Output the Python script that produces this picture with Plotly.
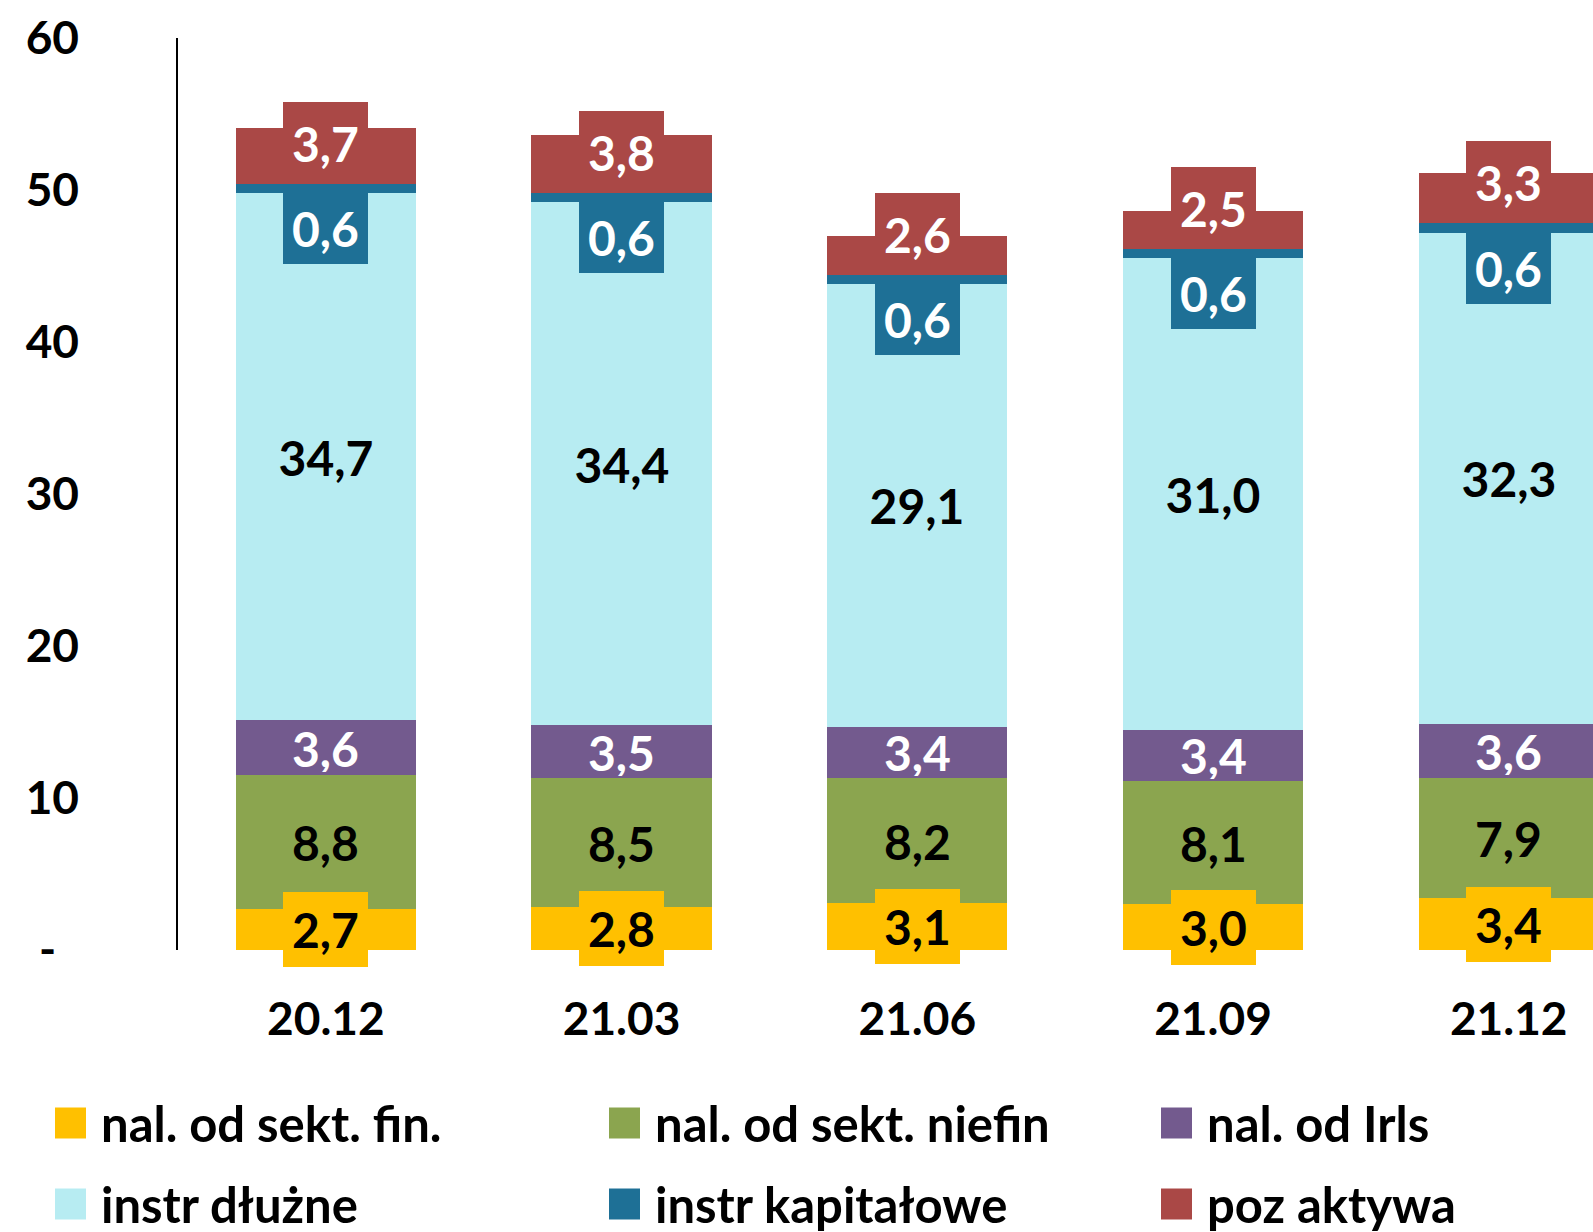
import numpy as np
import plotly.graph_objects as go

# ---------------- data ----------------
categories = ["20.12", "21.03", "21.06", "21.09", "21.12"]
series_names = ["nal. od sekt. fin.", "nal. od sekt. niefin", "nal. od Irls",
                "instr dłużne", "instr kapitałowe", "poz aktywa"]
nal_fin = [2.7, 2.8, 3.1, 3.0, 3.4]
nal_niefin = [8.8, 8.5, 8.2, 8.1, 7.9]
nal_irls = [3.6, 3.5, 3.4, 3.4, 3.6]
instr_dluzne = [34.7, 34.4, 29.1, 31.0, 32.3]
instr_kapitalowe = [0.6, 0.6, 0.6, 0.6, 0.6]
poz_aktywa = [3.7, 3.8, 2.6, 2.5, 3.3]
y_tick_vals = [0, 10, 20, 30, 40, 50, 60]
y_tick_text = ["-\u2002", "10", "20", "30", "40", "50", "60"]

series_values = [nal_fin, nal_niefin, nal_irls, instr_dluzne, instr_kapitalowe, poz_aktywa]

# ---------------- styles ----------------
colors = ["#FFC000", "#8BA54F", "#735A8E", "#B7ECF2", "#1E7096", "#AA4846"]
label_font_colors = ["black", "black", "white", "black", "white", "white"]
# label placement per series: centre of segment, box below segment, box above segment base
label_modes = ["mid", "mid", "mid", "mid", "below", "abovebase"]
label_box_h = [75, 60, 48, 60, 71, 82]
label_box_w = [85, 85, 85, 130, 85, 85]
FONT = "Lato, Carlito, 'Open Sans', sans-serif"
FS = 46
LBL_FS = 48
LEG_FS = 49

W, H = 1593, 1232
ML, MR, MT, MB = 178, 0, 38, 282
PW, PH = W - ML - MR, H - MT - MB


def px_x(px):
    return (px - ML) / PW


def px_y(py):
    return (H - MB - py) / PH


def fmt(v):
    return f"{v:.1f}".replace(".", ",")


fig = go.Figure()
for name, vals, col in zip(series_names, series_values, colors):
    fig.add_trace(go.Bar(x=categories, y=vals, name=name, marker=dict(color=col, line=dict(width=0)),
                         width=0.61, showlegend=False, hoverinfo="x+y+name"))

# data labels (boxed, like the original)
arr = np.array(series_values, dtype=float)
cum = np.cumsum(arr, axis=0)
base = cum - arr
annotations = []
for i in range(len(series_names)):
    for j in range(len(categories)):
        v = float(arr[i, j])
        b = float(base[i, j])
        if label_modes[i] == "mid":
            y, ya = b + v / 2, "middle"
        elif label_modes[i] == "below":
            y, ya = b, "top"
        else:
            y, ya = b, "bottom"
        annotations.append(dict(
            x=j, y=y, xref="x", yref="y", text=fmt(v), showarrow=False,
            yanchor=ya, xanchor="center", bgcolor=colors[i], borderwidth=0, borderpad=0,
            width=label_box_w[i], height=label_box_h[i], align="center", valign="middle",
            font=dict(family=FONT, size=LBL_FS, color=label_font_colors[i], weight="bold")))

# legend (3 columns x 2 rows)
legend_cols_px = [55, 609, 1161]
legend_rows_px = [1123, 1204]
shapes = []
for k, (name, col) in enumerate(zip(series_names, colors)):
    cx = legend_cols_px[k % 3]
    cy = legend_rows_px[k // 3]
    shapes.append(dict(type="rect", xref="paper", yref="paper",
                       x0=px_x(cx), x1=px_x(cx + 31), y0=px_y(cy + 15.5), y1=px_y(cy - 15.5),
                       fillcolor=col, line=dict(width=0)))
    annotations.append(dict(x=px_x(cx + 44), y=px_y(cy), xref="paper", yref="paper", text=name,
                            showarrow=False, xanchor="left", yanchor="middle",
                            font=dict(family=FONT, size=LEG_FS, color="black", weight="bold")))

fig.update_layout(
    width=W, height=H, margin=dict(l=ML, r=MR, t=MT, b=MB, autoexpand=False),
    barmode="stack", bargap=0.39,
    plot_bgcolor="white", paper_bgcolor="white",
    font=dict(family=FONT, size=FS, color="black", weight="bold"),
    annotations=annotations, shapes=shapes, showlegend=False,
    xaxis=dict(type="category", range=[-0.5, 4.285], showline=False, ticks="", showgrid=False,
               zeroline=False, tickfont=dict(family=FONT, size=FS, color="black", weight="bold"),
               ticklabelstandoff=38, fixedrange=True),
    yaxis=dict(range=[0, 60], tickvals=y_tick_vals, ticktext=y_tick_text, showline=True,
               linecolor="black", linewidth=1.5, ticks="", showgrid=False, zeroline=False,
               tickfont=dict(family=FONT, size=FS, color="black", weight="bold"),
               ticklabelstandoff=88, fixedrange=True),
)

fig.write_html("out.html", config={"displayModeBar": False},
               post_script="document.body.style.margin='0';")
